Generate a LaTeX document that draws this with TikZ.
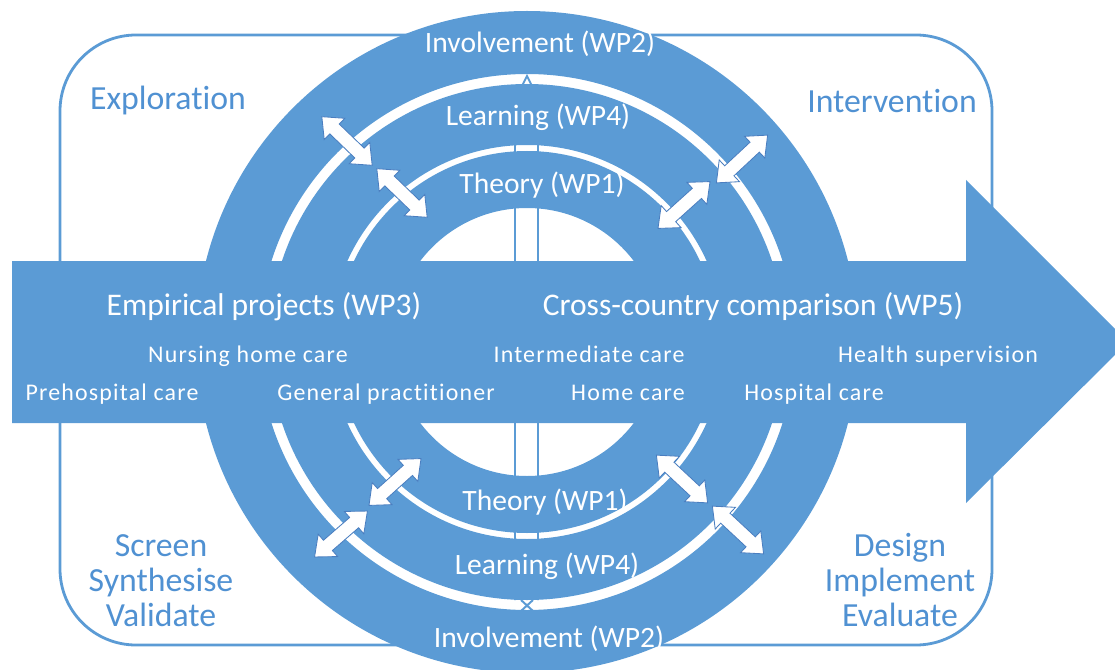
\documentclass[tikz,border=0pt]{standalone}
\usepackage{fontspec}
\setmainfont{Carlito}[Ligatures=NoCommon]
\newfontfamily\trackfont[LetterSpace=5, Ligatures=NoCommon]{Carlito}
\usetikzlibrary{shapes.arrows}

\definecolor{ringblue}{HTML}{5B9BD5}
\definecolor{textblue}{HTML}{5091D2}
\definecolor{edgeblue}{HTML}{4A7EC0}

\tikzset{
    % Fills - rings and the big arrow
    ring/.style={fill=ringblue, even odd rule},
    big arrow/.style={fill=ringblue},
    % Outer frame and the thin axis behind the rings
    frame/.style={draw=ringblue, line width=2pt, rounded corners=1.9cm},
    axis line/.style={draw=ringblue, line width=1.4pt},
    % White two-way arrows between rings
    swap arrow/.style={double arrow, draw=edgeblue, fill=white, line width=0.6pt,
        minimum height=1.75cm, inner xsep=0pt, inner ysep=0.16cm,
        double arrow head extend=0.2cm, double arrow tip angle=80},
    % Label styles
    ring label/.style={anchor=base, text=white, font=\fontsize{21}{24}\selectfont},
    head label/.style={anchor=base, text=white, font=\fontsize{22.4}{26}\selectfont},
    care label/.style={anchor=base, text=white, font=\trackfont\fontsize{17}{20}\selectfont},
    phase label/.style={text=textblue, align=center, font=\fontsize{24}{25}\selectfont},
}

\begin{document}
\begin{tikzpicture}[x=0.025cm, y=-0.025cm]
    \useasboundingbox (0,0) rectangle (1115,669);
    \clip (0,0) rectangle (1115,669);

    % Frame
    \draw[frame] (60,35) rectangle (992,645);

    % Axis behind the rings
    \coordinate (c) at (527,342);
    \draw[axis line] (515,600) -- (515,130) -- (500,130) -- (527,76) -- (554,130) -- (538,130) -- (538,600);
    \draw[axis line] (521,600) -- (533,611) (533,600) -- (521,611);

    % Rings
    \fill[ring] (c) circle[radius=331] circle[radius=268];
    \fill[ring] (c) circle[radius=258] circle[radius=197];
    \fill[ring] (c) circle[radius=191] circle[radius=134];

    % Big arrow
    \fill[big arrow] (12,261) -- (966,261) -- (966,180) -- (1128,342)
        -- (966,503) -- (966,423) -- (12,423) -- cycle;

    % Two-way arrows
    \node[swap arrow, rotate=-44] (tlo) at (347,141) {};
    \node[swap arrow, rotate=-44] (tli) at (402,193) {};
    \node[swap arrow, rotate=43] (tro) at (742,159) {};
    \node[swap arrow, rotate=42] (tri) at (684,205) {};
    \node[swap arrow, rotate=42] (bli) at (395,482) {};
    \node[swap arrow, rotate=41] (blo) at (341,534) {};
    \node[swap arrow, rotate=-43] (bri) at (682,479) {};
    \node[swap arrow, rotate=-43] (bro) at (738,530) {};

    % Ring labels
    \node[ring label] (inv top) at (540,53) {Involvement (WP2)};
    \node[ring label] (lrn top) at (538,126) {Learning (WP4)};
    \node[ring label] (thr top) at (542,194) {Theory (WP1)};
    \node[ring label] (thr bot) at (545,510) {Theory (WP1)};
    \node[ring label] (lrn bot) at (547,574) {Learning (WP4)};
    \node[ring label] (inv bot) at (549,647) {Involvement (WP2)};

    % Arrow labels
    \node[head label] (wp3) at (264,315) {Empirical projects (WP3)};
    \node[head label] (wp5) at (753,315) {Cross-country comparison (WP5)};
    \node[care label] (nursing) at (248,362) {Nursing home care};
    \node[care label] (interm) at (589,362) {Intermediate care};
    \node[care label] (health) at (938,362) {Health supervision};
    \node[care label] (prehosp) at (112,400) {Prehospital care};
    \node[care label] (gp) at (386,400) {General practitioner};
    \node[care label] (home) at (628,400) {Home care};
    \node[care label] (hosp) at (814,400) {Hospital care};

    % Phase labels in the corners
    \node[phase label] (explore) at (168,101) {Exploration};
    \node[phase label] (interv) at (892,101) {Intervention};
    \node[phase label] (screen) at (161,581) {Screen\\Synthesise\\Validate};
    \node[phase label] (design) at (900,580) {Design\\Implement\\Evaluate};
\end{tikzpicture}
\end{document}
